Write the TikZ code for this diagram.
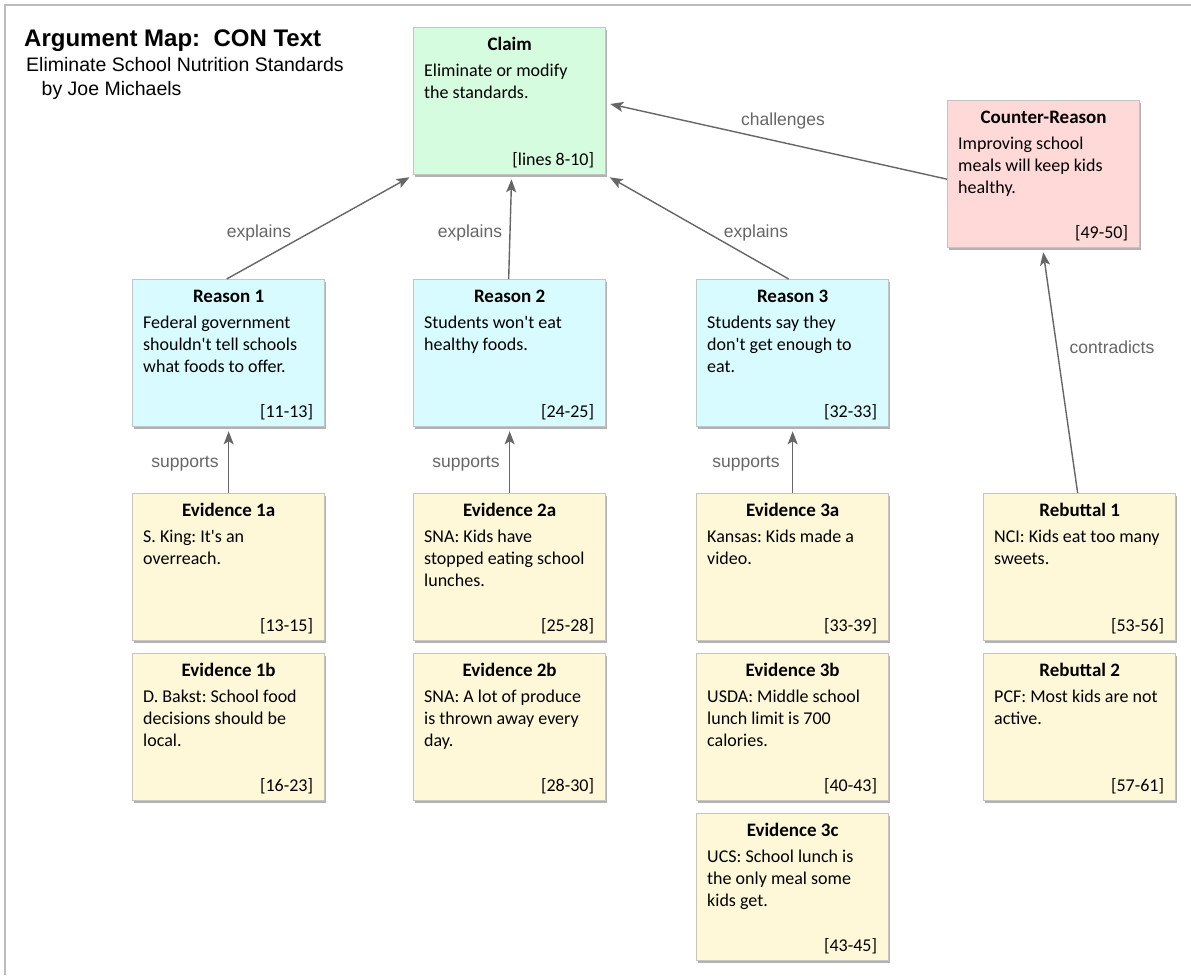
\documentclass[tikz,border=0pt]{standalone}
\usepackage{fontspec}
\setmainfont{Carlito}
\newfontfamily\helv{Liberation Sans}
\usetikzlibrary{arrows.meta,shadows}
\frenchspacing

\definecolor{framegray}{HTML}{BDBDBD}
\definecolor{boxedge}{HTML}{C4C4C4}
\definecolor{linkgray}{HTML}{666666}
\definecolor{claimfill}{HTML}{D5FCDF}
\definecolor{counterfill}{HTML}{FFD8D8}
\definecolor{reasonfill}{HTML}{D7FBFE}
\definecolor{evidfill}{HTML}{FFF8D8}

% straight apostrophe
\newcommand\ap{\textquotesingle}

\tikzset{
  cardbox/.style={draw=boxedge, line width=1.3pt, anchor=north west,
    minimum width=192pt, minimum height=147pt, inner sep=0pt,
    drop shadow={shadow xshift=1pt, shadow yshift=-2pt, opacity=0.3, fill=black}},
  cardtitle/.style={anchor=base, inner sep=0pt, font=\fontsize{19}{22}\selectfont\bfseries},
  cardbody/.style={anchor=base west, inner sep=0pt, font=\fontsize{18}{22}\selectfont},
  cardref/.style={anchor=base east, inner sep=0pt, font=\fontsize{18}{22}\selectfont},
  link/.style={draw=linkgray, line width=1.4pt,
    -{Stealth[length=13pt, width=10pt, inset=3pt]}, shorten >=4pt},
  linklabel/.style={anchor=base, inner sep=0pt, text=linkgray,
    font=\helv\fontsize{17.5}{20}\selectfont},
}

% \argcard{name}{left}{top}{fill}{heading}{body lines}{line reference}
\newcommand\argcard[7]{%
  \node[cardbox, fill=#4] (#1) at (#2,#3) {};
  \node[cardtitle] (#1-t) at ([yshift=-23pt]#1.north) {#5};
  \node[cardbody] (#1-b) at ([shift={(11pt,-49pt)}]#1.north west)
    {\parbox[t]{178pt}{\raggedright #6}};
  \node[cardref] (#1-r) at ([shift={(-12pt,10pt)}]#1.south east) {#7};
}

\begin{document}
\begin{tikzpicture}[x=1pt, y=-1pt]
\useasboundingbox (0,0) rectangle (1191,975);
\fill[white] (0,0) rectangle (1191,975);

% page frame (top and left edges)
\coordinate (ftl) at (5,5);
\coordinate (ftr) at (1191,5);
\coordinate (fbl) at (5,975);
\draw[framegray, line width=1.5pt] (ftr) -- (ftl) -- (fbl);

% heading
\node[anchor=base west, inner sep=0pt, font=\helv\bfseries\fontsize{24}{28}\selectfont]
  (head) at (24,46) {Argument Map:\ \ CON Text};
\node[anchor=base west, inner sep=0pt, font=\helv\fontsize{19.5}{24}\selectfont]
  (sub1) at (26,71.5) {Eliminate School Nutrition Standards};
\node[anchor=base west, inner sep=0pt, font=\helv\fontsize{19.5}{24}\selectfont]
  (sub2) at (41.5,95) {by Joe Michaels};

% cards
\argcard{claim}{413}{27}{claimfill}{Claim}{Eliminate or modify\\the standards.}{[lines 8-10]}
\argcard{counter}{947}{100}{counterfill}{Counter-Reason}{Improving school\\meals will keep kids\\healthy.}{[49-50]}

\argcard{r1}{132}{279}{reasonfill}{Reason 1}{Federal government\\shouldn\ap t tell schools\\what foods to offer.}{[11-13]}
\argcard{r2}{413}{279}{reasonfill}{Reason 2}{Students won\ap t eat\\healthy foods.}{[24-25]}
\argcard{r3}{696}{279}{reasonfill}{Reason 3}{Students say they\\don\ap t get enough to\\eat.}{[32-33]}

\argcard{e1a}{132}{493}{evidfill}{Evidence 1a}{S. King: It\ap s an\\overreach.}{[13-15]}
\argcard{e1b}{132}{653}{evidfill}{Evidence 1b}{D. Bakst: School food\\decisions should be\\local.}{[16-23]}
\argcard{e2a}{413}{493}{evidfill}{Evidence 2a}{SNA: Kids have\\stopped eating school\\lunches.}{[25-28]}
\argcard{e2b}{413}{653}{evidfill}{Evidence 2b}{SNA: A lot of produce\\is thrown away every\\day.}{[28-30]}
\argcard{e3a}{696}{493}{evidfill}{Evidence 3a}{Kansas: Kids made a\\video.}{[33-39]}
\argcard{e3b}{696}{653}{evidfill}{Evidence 3b}{USDA: Middle school\\lunch limit is 700\\calories.}{[40-43]}
\argcard{e3c}{696}{813}{evidfill}{Evidence 3c}{UCS: School lunch is\\the only meal some\\kids get.}{[43-45]}

\argcard{rb1}{983}{493}{evidfill}{Rebuttal 1}{NCI: Kids eat too many\\sweets.}{[53-56]}
\argcard{rb2}{983}{653}{evidfill}{Rebuttal 2}{PCF: Most kids are not\\active.}{[57-61]}

% connectors
\draw[link] ([xshift=-2pt]r1.north) -- (claim.south west);
\draw[link] ([xshift=-1pt]r2.north) -- ([xshift=2pt]claim.south);
\draw[link] ([xshift=-4pt]r3.north) -- (claim.south east);
\draw[link] ([yshift=-5pt]counter.west) -- ([yshift=-2pt]claim.east);
\draw[link] ([xshift=-2pt]rb1.north) -- ([xshift=-1pt]counter.south);
\draw[link] (e1a.north) -- (r1.south);
\draw[link] (e2a.north) -- (r2.south);
\draw[link] (e3a.north) -- (r3.south);

% connector labels
\node[linklabel] (l-ex1) at (259,237) {explains};
\node[linklabel] (l-ex2) at (470,237) {explains};
\node[linklabel] (l-ex3) at (756,237) {explains};
\node[linklabel] (l-ch) at (783,125) {challenges};
\node[linklabel] (l-co) at (1112,353) {contradicts};
\node[linklabel] (l-su1) at (185,467) {supports};
\node[linklabel] (l-su2) at (466,467) {supports};
\node[linklabel] (l-su3) at (746,467) {supports};
\end{tikzpicture}
\end{document}
